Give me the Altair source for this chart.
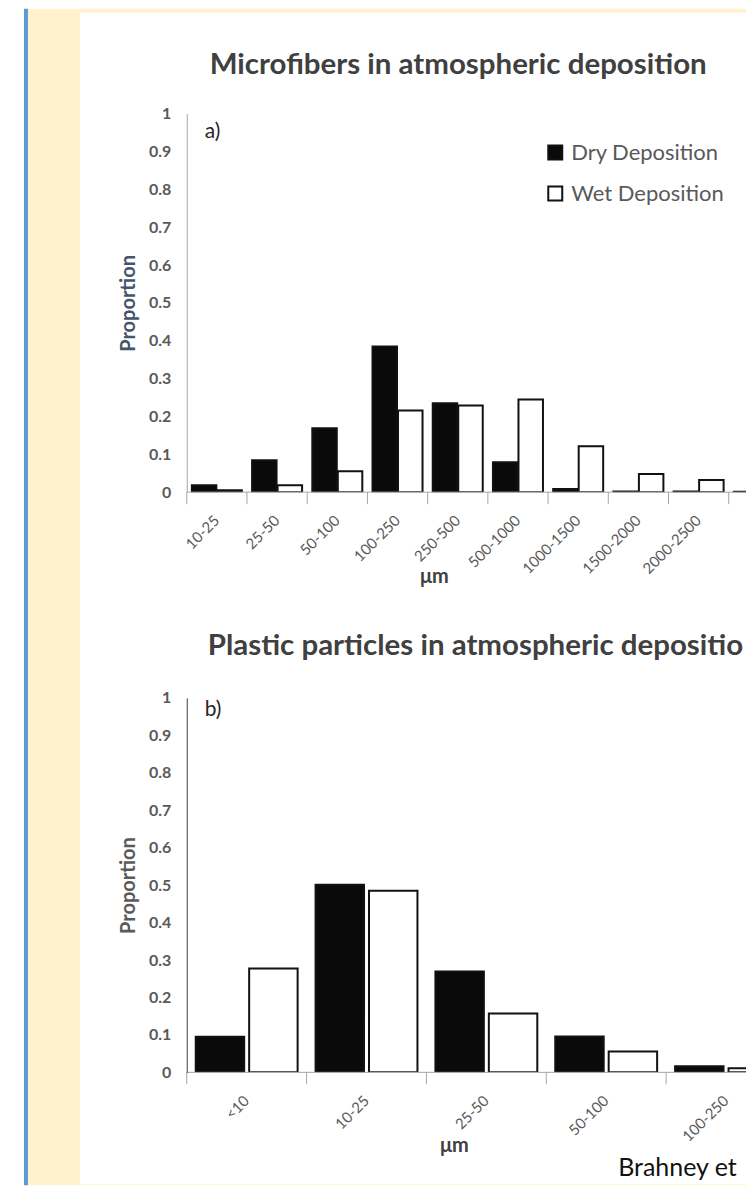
import altair as alt
import pandas as pd

FONT = "Lato"

# ---- data ----
series = ["Dry Deposition", "Wet Deposition"]

cats_a = ["10-25", "25-50", "50-100", "100-250", "250-500", "500-1000",
          "1000-1500", "1500-2000", "2000-2500", "2500-3000"]
dry_a = [0.018, 0.084, 0.169, 0.385, 0.235, 0.079, 0.008, 0.002, 0.002, 0.001]
wet_a = [0.005, 0.018, 0.055, 0.216, 0.229, 0.245, 0.121, 0.048, 0.032, 0.020]
labels_a = cats_a[:9]

cats_b = ["<10", "10-25", "25-50", "50-100", "100-250"]
dry_b = [0.095, 0.501, 0.269, 0.096, 0.016]
wet_b = [0.277, 0.485, 0.157, 0.056, 0.011]
labels_b = cats_b

yticks = [0, 0.1, 0.2, 0.3, 0.4, 0.5, 0.6, 0.7, 0.8, 0.9, 1]

title_a = "Microfibers in atmospheric deposition"
title_b = "Plastic particles in atmospheric deposition"
x_title = "μm"
source_text = "Brahney et al."


def long_df(cats, dry, wet):
    rows = []
    for c, d, w in zip(cats, dry, wet):
        rows.append({"size": c, "series": series[0], "prop": d})
        rows.append({"size": c, "series": series[1], "prop": w})
    return pd.DataFrame(rows)


df_a = long_df(cats_a, dry_a, wet_a)
df_b = long_df(cats_b, dry_b, wet_b)
one = pd.DataFrame({"k": [0]})

YELLOW = "#FFF2CC"
BLUE = "#5B9BD5"
AXIS_GREY = "#A6A6A6"
BAR_FILL = ["#0a0a0a", "#ffffff"]
VIEW_W = 560          # visible plot width (page x 187 -> 747)


def box(x, x2, y, y2, color):
    return alt.Chart(one).mark_rect(fill=color).encode(
        x=alt.value(x), x2=alt.value(x2), y=alt.value(y), y2=alt.value(y2))


def label(text, x, y, size, color, weight="normal", baseline="alphabetic",
          limit=0, align="left"):
    kw = dict(text=text, font=FONT, fontSize=size, color=color,
              fontWeight=weight, align=align, baseline=baseline)
    if limit:
        kw.update(limit=limit, ellipsis="\u200b")
    return alt.Chart(one).mark_text(**kw).encode(x=alt.value(x), y=alt.value(y))


def decorations(top, bottom, panel_top, panel_bottom):
    # slide background: white strip, blue rule, yellow frame, white panel
    return [
        box(-179, VIEW_W, top, bottom, "#ffffff"),
        box(-159, VIEW_W, top, bottom, YELLOW),
        box(-163, -159, top, bottom, BLUE),
        box(-107, VIEW_W, panel_top, panel_bottom, "#ffffff"),
    ]


def panel_layers(df, cats, vis_labels, full_w, height, pin, pout, ydom_color,
                 ytitle_color, mu_x, mu_y, legend):
    if legend:
        fill_legend = alt.Legend(
            orient="none", legendX=358, legendY=28, title=None,
            symbolType="square", symbolSize=196, symbolStrokeColor="#111111",
            symbolStrokeWidth=2, labelFont=FONT, labelFontSize=22,
            labelColor="#595959", labelOffset=5, rowPadding=19, padding=0,
            direction="vertical")
    else:
        fill_legend = None
    # the category axis runs on past the right edge of the slide, so it is
    # drawn from marks placed by the same band scale (clipped at the edge)
    x_scale = alt.Scale(paddingInner=0, paddingOuter=0, range=[0, full_w])

    def xcat(**kw):
        return alt.X("size:N", sort=cats, scale=x_scale, axis=None, **kw)

    bars = alt.Chart(df).mark_bar(stroke="#111111", strokeWidth=2,
                                  clip=True).encode(
        x=xcat(),
        xOffset=alt.XOffset("series:N", sort=series,
                            scale=alt.Scale(paddingInner=pin, paddingOuter=pout)),
        y=alt.Y("prop:Q", title="Proportion",
                scale=alt.Scale(domain=[0, 1], nice=False),
                axis=alt.Axis(values=yticks, format="~g", ticks=False,
                              grid=False, domainColor=ydom_color,
                              labelFont=FONT, labelFontSize=16,
                              labelFontWeight="bold", labelColor="#595959",
                              labelPadding=16, titleFont=FONT,
                              titleFontSize=20, titleFontWeight="bold",
                              titleColor=ytitle_color, titleX=-58,
                              titleY=height / 2, titleAlign="center",
                              titleBaseline="middle", zindex=1)),
        fill=alt.Fill("series:N", sort=series,
                      scale=alt.Scale(domain=series, range=BAR_FILL),
                      legend=fill_legend),
    ).properties(width=VIEW_W, height=height)

    axis_line = alt.Chart(one).mark_rule(color=AXIS_GREY, strokeWidth=1).encode(
        x=alt.value(0), x2=alt.value(VIEW_W), y=alt.value(height))
    # category-boundary ticks (start of each band)
    ticks = alt.Chart(pd.DataFrame({"size": cats})).mark_rule(
        color=AXIS_GREY, strokeWidth=1).encode(
        x=xcat(bandPosition=0),
        y=alt.value(height), y2=alt.value(height + 12))
    # category labels, rotated like the original axis
    tick_labels = alt.Chart(pd.DataFrame({"size": vis_labels})).mark_text(
        angle=315, align="right", baseline="middle", font=FONT, fontSize=15,
        color="#595959").encode(
        x=xcat(), y=alt.value(height + 26), text="size:N")
    mu = label(x_title, mu_x, height + mu_y, 20, "#404040", "bold",
               align="center")
    return [bars, axis_line, ticks, tick_labels, mu]


# panel a: plot origin at page (187, 113)
H_A = 379
panel_a = alt.layer(
    *decorations(-105, 502, -101, 502),
    *panel_layers(df_a, cats_a, labels_a, 603, H_A, 0.04, 0.2, AXIS_GREY,
                  "#44546A", 248, 91, True),
    label(title_a, 23, -40, 29.5, "#404040", "bold"),
    label("a)", 18, 18, 21, "#262626", baseline="middle"),
)

# panel b: plot origin at page (187, 698)
H_B = 375
panel_b = alt.layer(
    *decorations(-83, 488, -83, 487),
    *panel_layers(df_b, cats_b, labels_b, 600, H_B, 0.093, 0.168, "#404040",
                  "#595959", 268, 80, False),
    label(title_b, 21, -43, 29.5, "#404040", "bold", limit=539),
    label("b)", 18, 12, 21, "#262626", baseline="middle"),
    label(source_text, 432, 479, 25, "#111111", limit=128),
)

chart = (
    alt.vconcat(panel_a, panel_b, spacing=0)
    .resolve_scale(x="independent", y="independent", fill="independent",
                   xOffset="independent")
    .resolve_legend(fill="independent")
    .properties(padding=0, background="#ffffff")
    .configure(font=FONT)
    .configure_view(strokeWidth=0)
)

chart.save("out.html", embed_options={"renderer": "svg", "actions": False})
